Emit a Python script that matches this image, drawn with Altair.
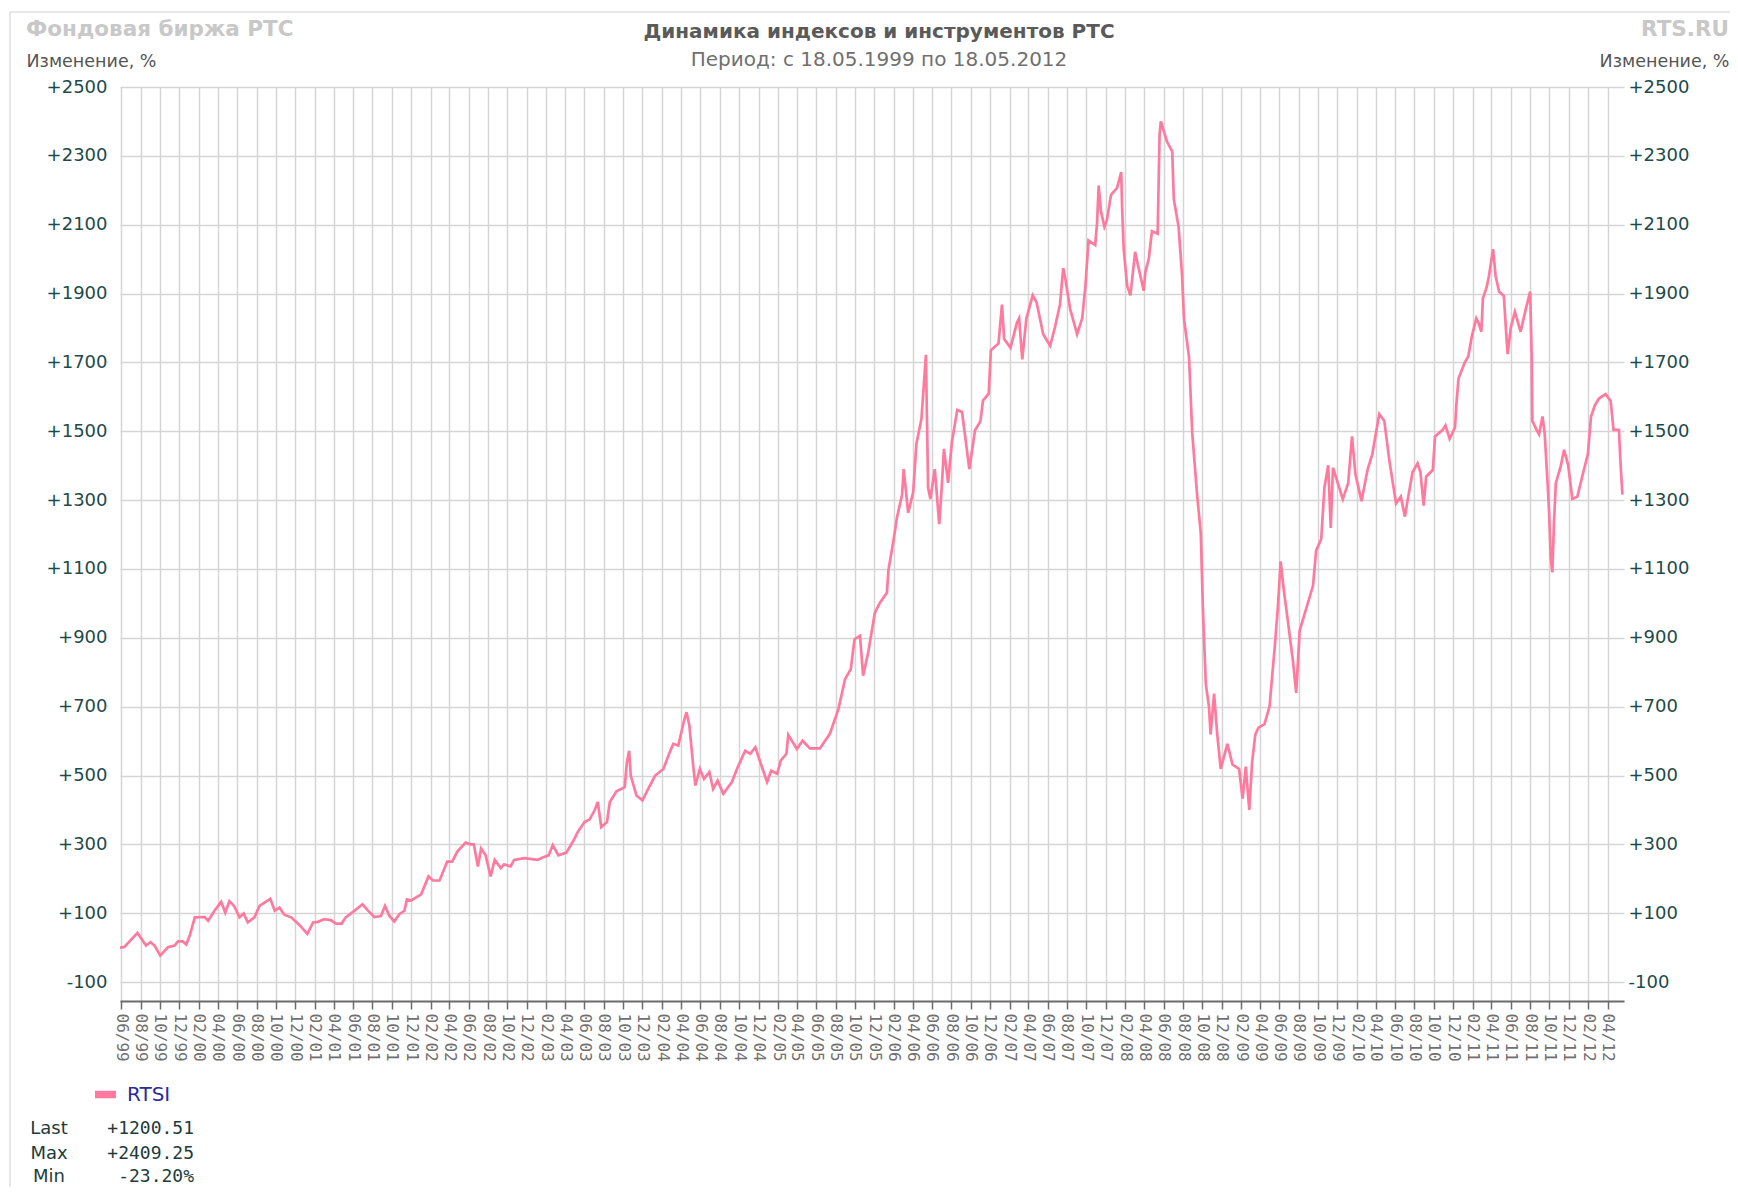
import altair as alt
import pandas as pd

# ---------------- text ----------------
TITLE = "Динамика индексов и инструментов РТС"
SUBTITLE = "Период: с 18.05.1999 по 18.05.2012"
BRAND_LEFT = "Фондовая биржа РТС"
BRAND_RIGHT = "RTS.RU"
Y_TITLE = "Изменение, %"
SERIES = "RTSI"
STAT_NAMES = ["Last", "Max", "Min"]
STAT_VALUES = ["+1200.51", "+2409.25", "-23.20%"]

# ---------------- axes ----------------
Y_TICKS = [-100, 100, 300, 500, 700, 900, 1100, 1300, 1500, 1700, 1900, 2100, 2300, 2500]
X_TICKS = [d.strftime("%Y-%m-%d") for d in pd.date_range("1999-06-01", "2012-04-01", freq="2MS")]
X_START = "1999-05-28"
X_END = "2012-05-23"
Y_MIN, Y_MAX = -155, 2500

# ---------------- data (RTSI, % change) ----------------
DATES_1999_2002 = [
    "1999-05-28", "1999-06-11", "1999-07-22", "1999-08-18", "1999-09-01", "1999-09-14", "1999-10-02",
    "1999-10-26", "1999-11-16", "1999-11-27", "1999-12-12", "1999-12-23",
    "2000-01-03", "2000-01-19", "2000-02-19", "2000-03-01", "2000-03-21", "2000-04-11", "2000-04-24",
    "2000-05-07", "2000-05-22", "2000-06-08", "2000-06-21", "2000-07-04", "2000-07-25", "2000-08-10",
    "2000-09-13", "2000-09-27", "2000-10-12", "2000-10-28", "2000-11-18", "2000-12-14",
    "2001-01-08", "2001-01-26", "2001-02-11", "2001-03-02", "2001-03-23", "2001-04-08", "2001-04-26",
    "2001-05-09", "2001-06-05", "2001-07-01", "2001-07-17", "2001-08-07", "2001-08-28", "2001-09-10",
    "2001-09-24", "2001-10-09", "2001-10-25", "2001-11-10", "2001-11-18", "2001-12-01",
    "2002-01-02", "2002-01-25", "2002-02-08", "2002-03-01", "2002-03-25", "2002-04-10", "2002-04-26",
    "2002-05-22", "2002-06-07", "2002-06-17", "2002-06-30", "2002-07-10", "2002-07-24", "2002-08-09",
    "2002-08-22", "2002-09-10", "2002-09-20", "2002-10-11", "2002-10-22", "2002-11-23",
]
VALUES_1999_2002 = [
    0, 2, 43, 6, 16, 6, -23, 1, 6, 18, 18, 9,
    35, 88, 89, 78, 107, 133, 102, 135, 121, 88, 99, 73, 88, 121, 142, 107, 116, 95, 88, 66,
    40, 73, 75, 83, 80, 70, 70, 88, 107, 126, 109, 89, 92, 121, 92, 76, 97, 107, 140, 137,
    155, 207, 195, 195, 250, 250, 279, 305, 300, 300, 236, 288, 269, 207, 255, 231, 242, 236, 255, 260,
]

DATES_2003_2005 = [
    "2003-01-04", "2003-01-20", "2003-02-08", "2003-02-21", "2003-03-11", "2003-04-05", "2003-04-28",
    "2003-05-11", "2003-06-01", "2003-06-17", "2003-07-03", "2003-07-13", "2003-07-24", "2003-08-11",
    "2003-08-20", "2003-09-10", "2003-10-06", "2003-10-13", "2003-10-20", "2003-10-25", "2003-11-12",
    "2003-12-01", "2003-12-19",
    "2004-01-10", "2004-02-05", "2004-02-21", "2004-03-07", "2004-03-23", "2004-04-10", "2004-04-18",
    "2004-04-27", "2004-05-09", "2004-05-16", "2004-05-30", "2004-06-12", "2004-06-29", "2004-07-11",
    "2004-07-25", "2004-08-12", "2004-09-08", "2004-09-24", "2004-10-20", "2004-11-05", "2004-11-21",
    "2004-12-12", "2004-12-28",
    "2005-01-10", "2005-01-29", "2005-02-09", "2005-02-27", "2005-03-05", "2005-04-01", "2005-04-19",
    "2005-05-12", "2005-06-13", "2005-07-14", "2005-08-10", "2005-08-31", "2005-09-18", "2005-09-30",
    "2005-10-17", "2005-10-27", "2005-11-12", "2005-12-03", "2005-12-19",
]
VALUES_2003_2005 = [
    255, 262, 268, 298, 268, 276, 312, 336, 365, 372, 399, 423, 350, 365, 423, 454, 466, 539, 572, 500,
    442, 428, 461,
    500, 519, 558, 592, 587, 659, 684, 645, 529, 471, 519, 490, 510, 461, 485, 447, 481, 519, 572, 563,
    582, 524, 481,
    514, 505, 543, 563, 618, 577, 601, 579, 579, 621, 693, 780, 809, 896, 906, 790, 857, 973, 1002,
]

DATES_2006 = [
    "2006-01-10", "2006-01-15", "2006-02-01", "2006-02-11", "2006-02-27", "2006-03-04", "2006-03-18",
    "2006-04-03", "2006-04-13", "2006-04-29", "2006-05-06", "2006-05-13", "2006-05-20", "2006-05-27",
    "2006-06-10", "2006-06-24", "2006-07-01", "2006-07-09", "2006-07-22", "2006-08-03", "2006-08-20",
    "2006-09-04", "2006-09-27", "2006-10-15", "2006-11-01", "2006-11-09", "2006-11-27", "2006-12-04",
    "2006-12-28",
]
VALUES_2006 = [
    1031, 1097, 1190, 1250, 1317, 1390, 1263, 1323, 1463, 1536, 1629, 1722, 1336, 1303, 1390, 1230,
    1323, 1449, 1350, 1469, 1562, 1556, 1390, 1503, 1529, 1589, 1609, 1735, 1755,
]

DATES_2007 = [
    "2007-01-08", "2007-01-15", "2007-02-04", "2007-02-24", "2007-03-03", "2007-03-13", "2007-03-26",
    "2007-04-15", "2007-04-27", "2007-05-18", "2007-06-09", "2007-06-24", "2007-07-10", "2007-07-20",
    "2007-07-26", "2007-08-11", "2007-09-02", "2007-09-18", "2007-09-28", "2007-10-08", "2007-10-29",
    "2007-11-04", "2007-11-09", "2007-11-16", "2007-11-27", "2007-12-05", "2007-12-18",
]
VALUES_2007 = [
    1868, 1768, 1742, 1815, 1828, 1709, 1828, 1895, 1875, 1782, 1748, 1802, 1868, 1974, 1948, 1855,
    1782, 1828, 1921, 2054, 2041, 2107, 2214, 2140, 2094, 2114, 2187,
]

DATES_2008_2009Q1 = [
    "2008-01-06", "2008-01-19", "2008-01-22", "2008-01-27", "2008-02-07", "2008-02-17", "2008-03-03",
    "2008-03-14", "2008-03-30", "2008-04-04", "2008-04-15", "2008-04-25", "2008-05-13", "2008-05-19",
    "2008-05-23", "2008-06-12", "2008-06-28", "2008-07-03", "2008-07-18", "2008-07-29", "2008-08-04",
    "2008-08-20", "2008-08-30", "2008-09-15", "2008-09-26", "2008-10-03", "2008-10-12", "2008-10-22",
    "2008-10-27", "2008-11-07", "2008-11-17", "2008-11-28", "2008-12-19",
    "2009-01-04", "2009-01-25", "2009-02-05", "2009-02-15", "2009-02-26", "2009-03-07", "2009-03-17",
    "2009-03-27",
]
VALUES_2008_2009Q1 = [
    2207, 2253, 2147, 2028, 1921, 1895, 2021, 1974, 1908, 1961, 2001, 2081, 2074, 2360, 2400, 2340,
    2313, 2174, 2094, 1954, 1828, 1715, 1496, 1310, 1204, 978, 765, 699, 619, 738, 619, 519, 592,
    532, 519, 433, 526, 400, 539, 619, 639,
]

DATES_2009_2010 = [
    "2009-04-15", "2009-05-01", "2009-05-17", "2009-05-27", "2009-06-05", "2009-06-15", "2009-06-28",
    "2009-07-14", "2009-07-24", "2009-08-04", "2009-08-25", "2009-09-15", "2009-09-25", "2009-10-11",
    "2009-10-21", "2009-11-02", "2009-11-10", "2009-11-17", "2009-11-28", "2009-12-18",
    "2010-01-04", "2010-01-16", "2010-01-27", "2010-02-15", "2010-03-06", "2010-03-21", "2010-04-12",
    "2010-04-28", "2010-05-14", "2010-06-04", "2010-06-19", "2010-07-02", "2010-07-10", "2010-07-26",
    "2010-08-11", "2010-08-20", "2010-08-30", "2010-09-07", "2010-09-28", "2010-10-05", "2010-10-29",
    "2010-11-07", "2010-11-20", "2010-12-07", "2010-12-11", "2010-12-18",
]
VALUES_2009_2010 = [
    649, 701, 869, 986, 1122, 1038, 947, 831, 740, 921, 986, 1051, 1154, 1187, 1336, 1401, 1219, 1394,
    1362, 1303,
    1349, 1485, 1375, 1297, 1388, 1433, 1550, 1530, 1414, 1290, 1310, 1252, 1297, 1381, 1407, 1381,
    1284, 1368, 1388, 1485, 1504, 1517, 1478, 1511, 1575, 1653,
]

DATES_2011_2012 = [
    "2011-01-06", "2011-01-18", "2011-01-29", "2011-02-12", "2011-02-19", "2011-02-28", "2011-03-05",
    "2011-03-17", "2011-03-24", "2011-04-06", "2011-04-14", "2011-04-25", "2011-05-10", "2011-05-18",
    "2011-05-22", "2011-06-01", "2011-06-14", "2011-07-02", "2011-07-18", "2011-08-01", "2011-08-06",
    "2011-08-08", "2011-08-21", "2011-08-29", "2011-09-09", "2011-09-16", "2011-09-25", "2011-09-30",
    "2011-10-05", "2011-10-10", "2011-10-15", "2011-10-21", "2011-11-06", "2011-11-16", "2011-11-29",
    "2011-12-12", "2011-12-28",
    "2012-01-14", "2012-01-30", "2012-02-09", "2012-02-21", "2012-03-05", "2012-03-26", "2012-04-11",
    "2012-04-20", "2012-05-07", "2012-05-12", "2012-05-18",
]
VALUES_2011_2012 = [
    1698, 1718, 1776, 1828, 1815, 1789, 1886, 1919, 1951, 2029, 1951, 1906, 1893, 1776, 1724, 1802,
    1847, 1789, 1854, 1906, 1711, 1530, 1504, 1491, 1543, 1491, 1349, 1258, 1129, 1090, 1232, 1349,
    1401, 1446, 1401, 1303, 1310,
    1375, 1433, 1543, 1575, 1595, 1608, 1588, 1504, 1504, 1407, 1316,
]

SEGMENTS = [
    (DATES_1999_2002, VALUES_1999_2002),
    (DATES_2003_2005, VALUES_2003_2005),
    (DATES_2006, VALUES_2006),
    (DATES_2007, VALUES_2007),
    (DATES_2008_2009Q1, VALUES_2008_2009Q1),
    (DATES_2009_2010, VALUES_2009_2010),
    (DATES_2011_2012, VALUES_2011_2012),
]
df = pd.concat([pd.DataFrame({"date": d, "value": v}) for d, v in SEGMENTS], ignore_index=True)
df["series"] = SERIES

# ---------------- style ----------------
SANS = "DejaVu Sans"
MONO = "DejaVu Sans Mono"
LINE_COLOR = "#ff7a9e"
GRID = "#d5d5d5"
AXIS_DARK = "#6b6b6b"
LABEL_TEAL = "#1d4a4a"
W, H = 1504, 914


def dt(s):
    t = pd.Timestamp(s)
    return alt.DateTime(year=t.year, month=t.month, date=t.day, utc=True)


x_scale = alt.Scale(type="utc", domain=[dt(X_START), dt(X_END)])
y_scale = alt.Scale(domain=[Y_MIN, Y_MAX], nice=False, zero=False)

x_axis = alt.Axis(
    values=[dt(s) for s in X_TICKS], format="%m/%y", labelAngle=90, labelAlign="left",
    labelBaseline="middle", labelFont=MONO, labelFontSize=16, labelColor="#707070",
    labelPadding=4, labelOverlap=False, labelFlush=False, tickSize=8, tickColor=AXIS_DARK,
    tickWidth=1.5, domainColor=AXIS_DARK, domainWidth=2, grid=True, gridColor=GRID,
    gridWidth=1.5, title=None,
)
label_expr = "(datum.value > 0 ? '+' : '') + datum.value"
y_left = alt.Axis(
    values=Y_TICKS, labelExpr=label_expr, labelFont=SANS, labelFontSize=18, labelColor=LABEL_TEAL,
    labelPadding=13, ticks=False, tickSize=0, domain=False, grid=True, gridColor=GRID, gridWidth=1.5,
    title=Y_TITLE, titleAngle=0, titleAlign="left", titleBaseline="middle", titleX=-94, titleY=-26,
    titleFont=SANS, titleFontSize=17.5, titleFontWeight="normal", titleColor="#555555",
)
y_right = alt.Axis(
    orient="right", values=Y_TICKS, labelExpr=label_expr, labelFont=SANS, labelFontSize=18,
    labelColor=LABEL_TEAL, labelPadding=4, ticks=False, tickSize=0, domain=False, grid=False,
    title=Y_TITLE, titleAngle=0, titleAlign="right", titleBaseline="middle", titleX=105, titleY=-26,
    titleFont=SANS, titleFontSize=17.5, titleFontWeight="normal", titleColor="#555555",
)

one = pd.DataFrame({"k": [0]})

frame = alt.Chart(one).mark_rect(fillOpacity=0, stroke="#cfcfcf", strokeWidth=1).encode(
    x=alt.value(-110), y=alt.value(-75), x2=alt.value(1800), y2=alt.value(1300)
)

line = alt.Chart(df).mark_line(strokeWidth=2.7, interpolate="linear").encode(
    x=alt.X("date:T", scale=x_scale, axis=x_axis),
    y=alt.Y("value:Q", scale=y_scale, axis=y_left),
    color=alt.Color(
        "series:N",
        scale=alt.Scale(domain=[SERIES], range=[LINE_COLOR]),
        legend=alt.Legend(
            orient="none", legendX=-29, legendY=993, title=None, padding=0,
            symbolType="stroke", symbolSize=441, symbolStrokeWidth=7.5,
            labelFont=SANS, labelFontSize=20, labelColor="#2b2b9c", labelOffset=7,
        ),
    ),
)

right_axis = alt.Chart(df).mark_point(opacity=0, size=1).encode(
    y=alt.Y("value:Q", scale=y_scale, axis=y_right)
)


def text_layer(txt, x, y, **kw):
    return alt.Chart(pd.DataFrame({"t": [txt]})).mark_text(**kw).encode(
        text="t:N", x=alt.value(x), y=alt.value(y)
    )


texts = [
    text_layer(TITLE, 759, -55, font=SANS, fontSize=20, fontWeight="bold", color="#5a5a5a",
               align="center", baseline="middle"),
    text_layer(SUBTITLE, 759, -27, font=SANS, fontSize=20, color="#707070",
               align="center", baseline="middle"),
    text_layer(BRAND_LEFT, -94, -57, font=SANS, fontSize=21.5, fontWeight="bold", color="#c8c8c8",
               align="left", baseline="middle"),
    text_layer(BRAND_RIGHT, 1609, -57, font=SANS, fontSize=21.5, fontWeight="bold", color="#c8c8c8",
               align="right", baseline="middle"),
]
STAT_Y = [1042, 1067, 1090]
for name, val, yy in zip(STAT_NAMES, STAT_VALUES, STAT_Y):
    texts.append(text_layer(name, -71, yy, font=SANS, fontSize=18, color="#1d3b3b",
                            align="center", baseline="middle"))
    texts.append(text_layer(val, 74, yy, font=MONO, fontSize=18, color="#1d3b3b",
                            align="right", baseline="middle"))

chart = (
    alt.layer(frame, line, right_axis, *texts)
    .resolve_scale(y="shared")
    .resolve_axis(y="independent")
    .properties(
        width=W, height=H,
        padding={"left": 112, "top": 79, "right": 106, "bottom": 186},
        autosize=alt.AutoSizeParams(type="none"),
    )
    .configure_view(stroke=None)
)

chart.save("out.html", embed_options={"renderer": "svg", "actions": False})
